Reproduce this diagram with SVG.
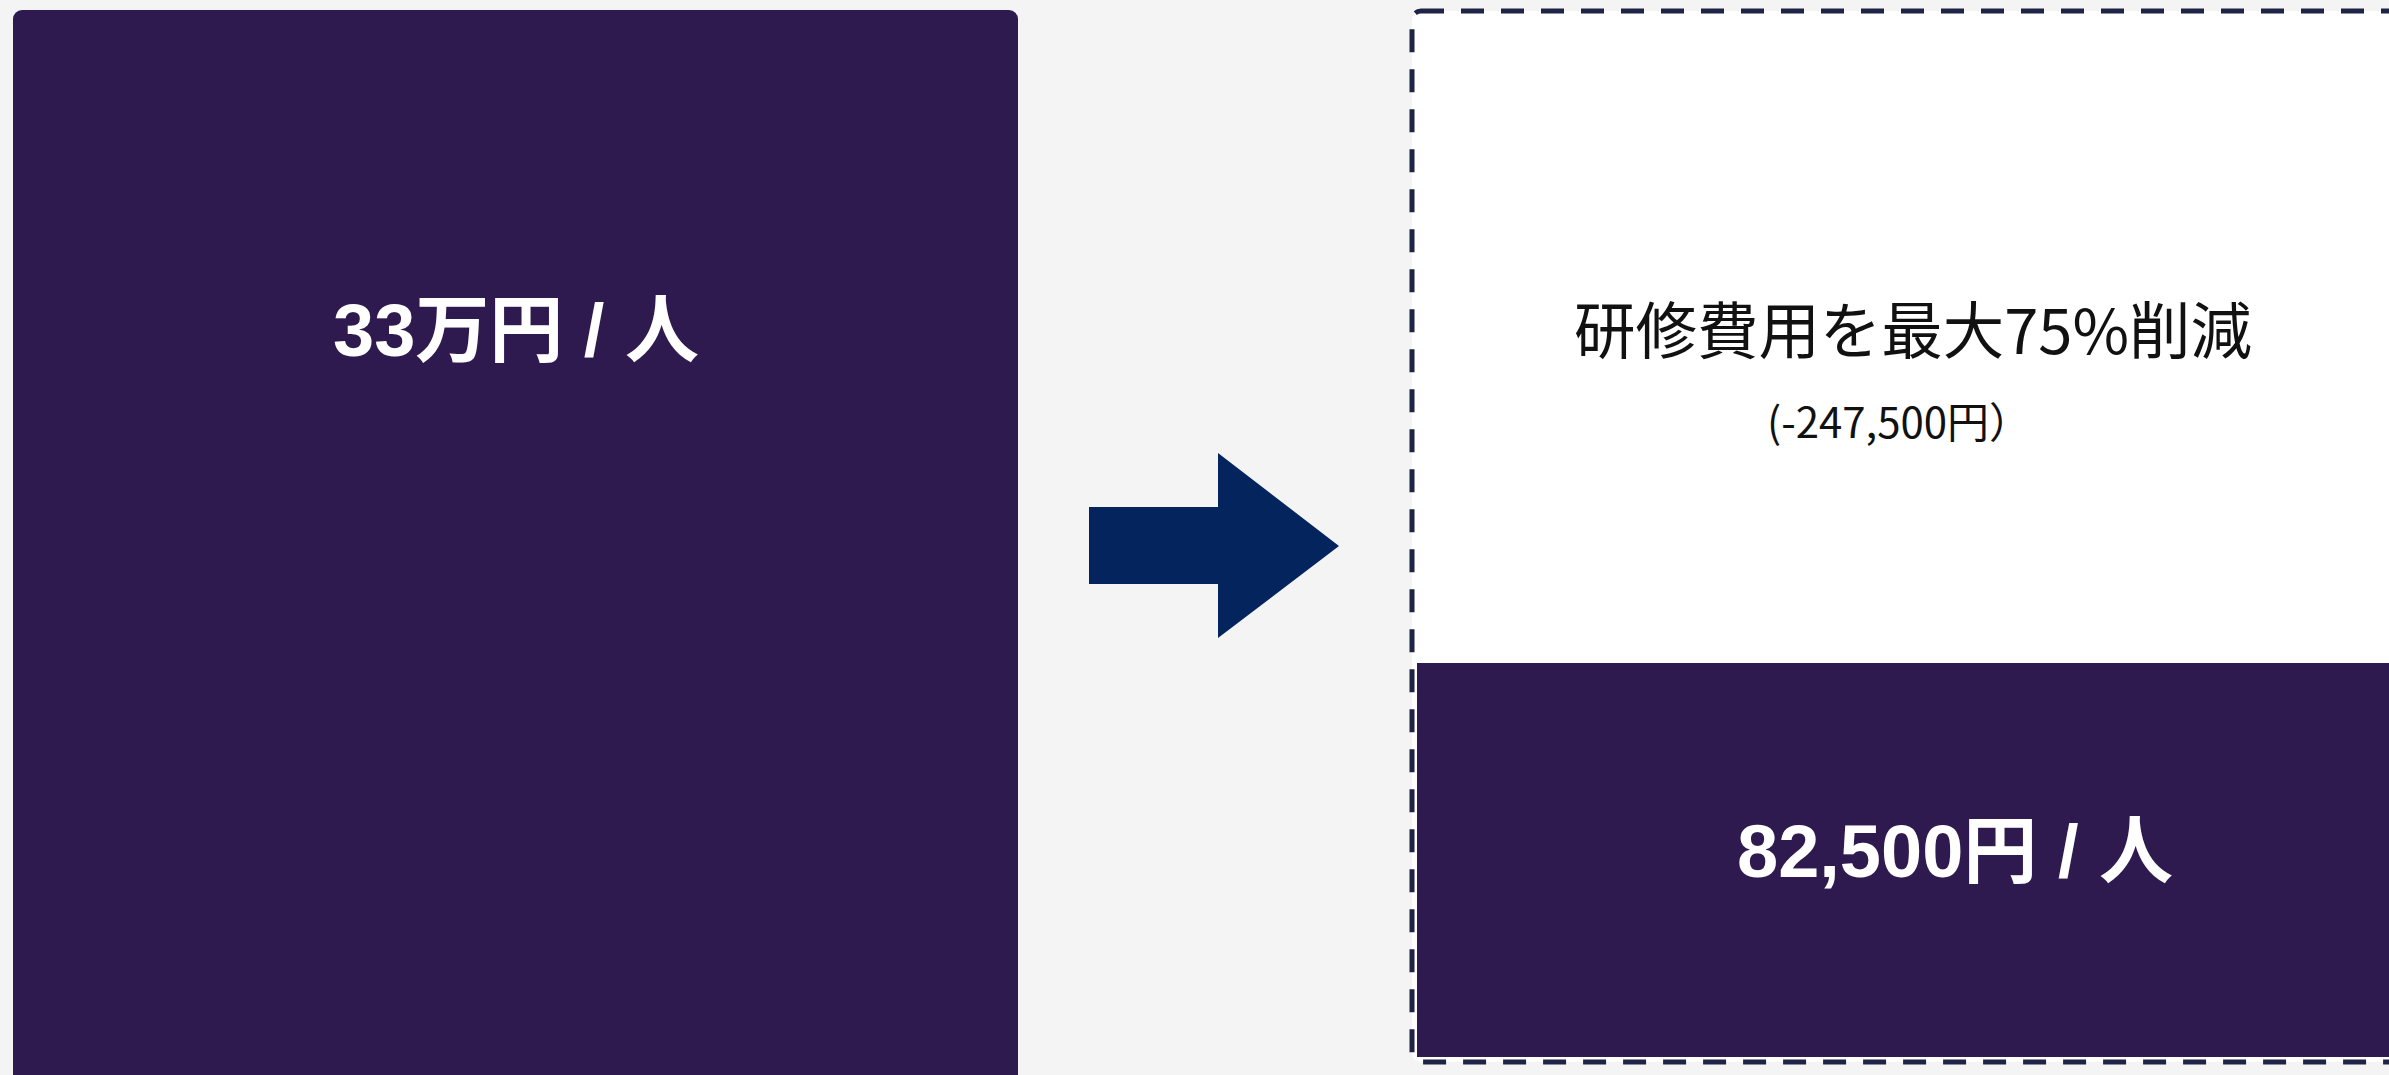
<svg xmlns="http://www.w3.org/2000/svg" width="2389" height="1075" viewBox="0 0 2389 1075">
<style>
.bigw{font-family:"Liberation Sans","Noto Sans CJK JP",sans-serif;font-weight:bold;fill:#ffffff;text-anchor:middle}
.dark{font-family:"Noto Sans CJK JP",sans-serif;fill:#111111;text-anchor:middle}
</style>
<rect x="0" y="0" width="2389" height="1075" fill="#f4f4f4"/>
<g id="before">
<rect x="13" y="10" width="1005" height="1090" rx="9" fill="#2e1a4e"/>
<text class="bigw" x="516" y="356" font-size="74">33万円 / 人</text>
</g>
<g id="connectors">
<polygon points="1089,507 1218,507 1218,453 1339,546 1218,638 1218,584 1089,584" fill="#03245c"/>
</g>
<g id="after">
<rect x="1412" y="11" width="1100" height="1051" rx="9" fill="#ffffff" stroke="#1f2346" stroke-width="5" stroke-dasharray="23 17"/>
<rect x="1417" y="663" width="1000" height="394" fill="#2e1a4e"/>
<text class="dark" x="1913" y="354" font-size="62" textLength="678" lengthAdjust="spacingAndGlyphs">研修費用を最大75%削減</text>
<text class="dark" x="1899" y="438" font-size="42" textLength="264" lengthAdjust="spacingAndGlyphs">(-247,500円）</text>
<text class="bigw" x="1955" y="877" font-size="74">82,500円 / 人</text>
</g>
</svg>
